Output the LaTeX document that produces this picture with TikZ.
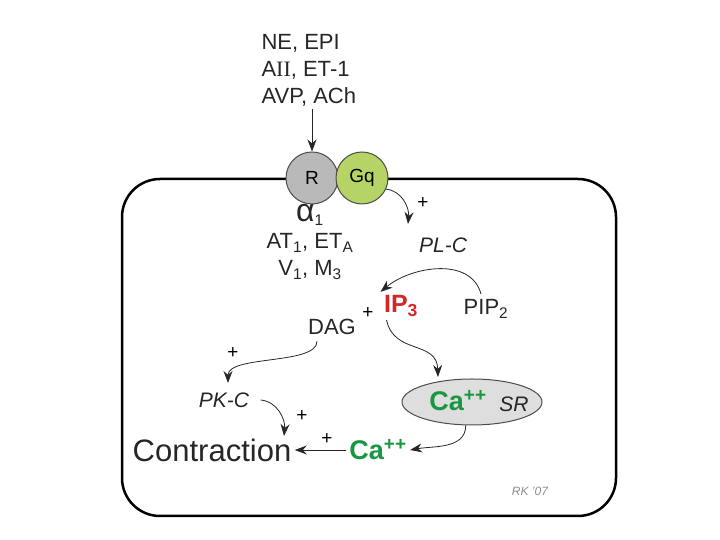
\documentclass[tikz,border=0pt]{standalone}
\usepackage{fontspec}
\setmainfont{Liberation Sans}
\newfontfamily\romanII{Liberation Serif}
\usetikzlibrary{arrows.meta,positioning,shapes.geometric}
\definecolor{ipred}{RGB}{210,40,40}
\definecolor{cagreen}{RGB}{25,150,65}
\definecolor{rgray}{RGB}{185,185,185}
\definecolor{gqgreen}{RGB}{182,212,102}
\definecolor{srgray}{RGB}{222,222,222}
\tikzset{>={Stealth[length=12pt,width=9pt]},
         sig/.style={->,line width=0.8pt,black!85},
         plus/.style={font=\fontsize{19}{19}\selectfont},
         txt/.style={font=\fontsize{22}{27}\selectfont,text=black!85},
         enz/.style={font=\fontsize{21}{24}\selectfont\itshape,text=black!85},
         recep/.style={circle,draw=black!70,line width=1pt,minimum size=52pt,
                       inner sep=0pt,font=\fontsize{19}{19}\selectfont}}
\newcommand{\caion}[1]{\textcolor{cagreen}{\fontsize{#1}{#1}\selectfont\bfseries Ca\textsuperscript{++}}}

\begin{document}
\begin{tikzpicture}[x=1pt,y=1pt]
  \useasboundingbox (0,0) rectangle (720,540);
  % cell
  \draw[line width=2.5pt,rounded corners=38pt] (122,24) rectangle (616,361);
  % receptor and G protein
  \node[recep,fill=rgray] (r) at (312,362) {R};
  \node[recep,fill=gqgreen] (gq) at (362,362) {Gq};
  \node[txt,anchor=west,align=left] (lig) at (258,470)
    {NE, EPI\\A{\romanII II}, ET-1\\AVP, ACh};
  \draw[sig] (lig.south -| r) -- (r.north);
  \node[txt,align=center] (sub) at (310,298)
    {{\fontsize{32}{20}\selectfont α}\textsubscript{1}\\AT\textsubscript{1}, ET\textsubscript{A}\\V\textsubscript{1}, M\textsubscript{3}};
  % PL-C pathway
  \node[enz] (plc) at (443,295) {PL-C};
  \node[txt] (pip) at (486,231) {PIP\textsubscript{2}};
  \node[font=\fontsize{25}{25}\selectfont\bfseries,text=ipred] (ip3) at (401,234) {IP\textsubscript{3}};
  \node[txt] (dag) at (332,213) {DAG};
  \node[plus] (p1) at (368,227) {+};
  \node[plus] (p0) at (423,337) {+};
  \coordinate (plctop) at (408,316);
  \draw[sig] (gq.-25) to[out=-5,in=85] (plctop);
  \draw[sig] (pip.north) ++(-5,2) to[out=105,in=40] (ip3.north west);
  % SR and calcium
  \node[ellipse,draw=black!70,line width=1pt,fill=srgray,
        minimum width=140pt,minimum height=46pt] (sr) at (472,138) {};
  \node (casr) at (458,139) {\caion{27}};
  \node[enz] (srl) at (514,136) {SR};
  \node (ca) at (378,90) {\caion{27}};
  \node[font=\fontsize{31}{31}\selectfont,text=black!85] (con) at (212,90) {Contraction};
  \node[enz] (pkc) at (224,140) {PK-C};
  \draw[sig] (ip3.south west) ++(6,0) .. controls (394,185) and (437,200) .. (438,163);
  \draw[sig] (sr.-105) to[out=-90,in=10] (ca.east);
  \draw[sig] (ca.west) -- (con.east);
  \node[plus] (p2) at (327,101) {+};
  \draw[sig] (dag.south) ++(-15,-3) .. controls (317,175) and (228,185) .. (228,157);
  \node[plus] (p3) at (233,187) {+};
  \draw[sig] (pkc.east) ++(8,0) to[out=-5,in=85] (284,104);
  \node[plus] (p4) at (302,124) {+};
  \node[font=\fontsize{12}{12}\selectfont\itshape,text=black!45] (sig) at (530,49) {RK '07};
\end{tikzpicture}
\end{document}
